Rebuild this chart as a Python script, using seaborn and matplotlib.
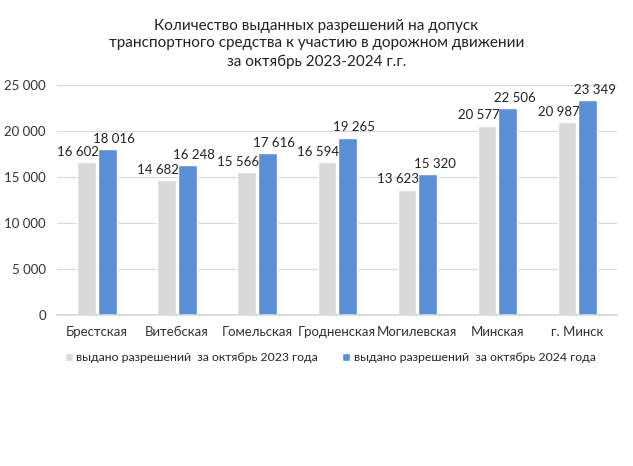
import matplotlib
matplotlib.use("Agg")
import matplotlib.pyplot as plt
import seaborn as sns
import pandas as pd

categories = ["Брестская", "Витебская", "Гомельская", "Гродненская", "Могилевская", "Минская", "г. Минск"]
values_2023 = [16602, 14682, 15566, 16594, 13623, 20577, 20987]
values_2024 = [18016, 16248, 17616, 19265, 15320, 22506, 23349]
series_names = ["выдано разрешений  за октябрь 2023 года", "выдано разрешений  за октябрь 2024 года"]
title = "Количество выданных разрешений на допуск\nтранспортного средства к участию в дорожном движении\nза октябрь 2023-2024 г.г."

df = pd.DataFrame({
    "cat": categories * 2,
    "val": values_2023 + values_2024,
    "series": [series_names[0]] * len(categories) + [series_names[1]] * len(categories),
})

sns.set_theme(style="white")
plt.rcParams["font.family"] = ["Lato", "DejaVu Sans"]

fig = plt.figure(figsize=(6.33, 4.66), dpi=100)
ax = fig.add_axes([0.09, 0.324, 0.885, 0.494])

sns.barplot(data=df, x="cat", y="val", hue="series",
            palette=["#D9D9D9", "#5A8ED6"], width=0.52, gap=0.12,
            ax=ax, errorbar=None, saturation=1)

fmt = lambda v: f"{int(v):,}".replace(",", " ")
offsets = [-6, 5]
for cont, dx in zip(ax.containers, offsets):
    for b in cont:
        h = b.get_height()
        ax.annotate(fmt(h), (b.get_x() + b.get_width() / 2, h), xytext=(dx, 3),
                    textcoords="offset points", ha="center", va="bottom",
                    fontsize=9.5, color="#222222")

ax.set_ylim(0, 25000)
ax.set_yticks(range(0, 25001, 5000))
ax.set_yticklabels([fmt(v) for v in range(0, 25001, 5000)], fontsize=9.5, color="#333333")
ax.tick_params(axis="x", labelsize=9.5, colors="#333333", length=0, pad=8)
ax.tick_params(axis="y", length=0, pad=8)
ax.set_xlabel("")
ax.set_ylabel("")
ax.yaxis.grid(True, color="#D9D9D9", linewidth=0.8)
ax.set_axisbelow(True)
for s in ["top", "right", "left"]:
    ax.spines[s].set_visible(False)
ax.spines["bottom"].set_color("#D9D9D9")

ax.legend(loc="upper left", bbox_to_anchor=(0.005, -0.14), ncol=2, frameon=False,
          fontsize=8.8, handlelength=0.65, handleheight=0.65, handletextpad=0.3,
          columnspacing=2.0, borderaxespad=0)

fig.text(0.5, 0.96, title, ha="center", va="top", fontsize=11, color="#222222", linespacing=1.35)

fig.savefig("out.png", dpi=100, facecolor="white")
